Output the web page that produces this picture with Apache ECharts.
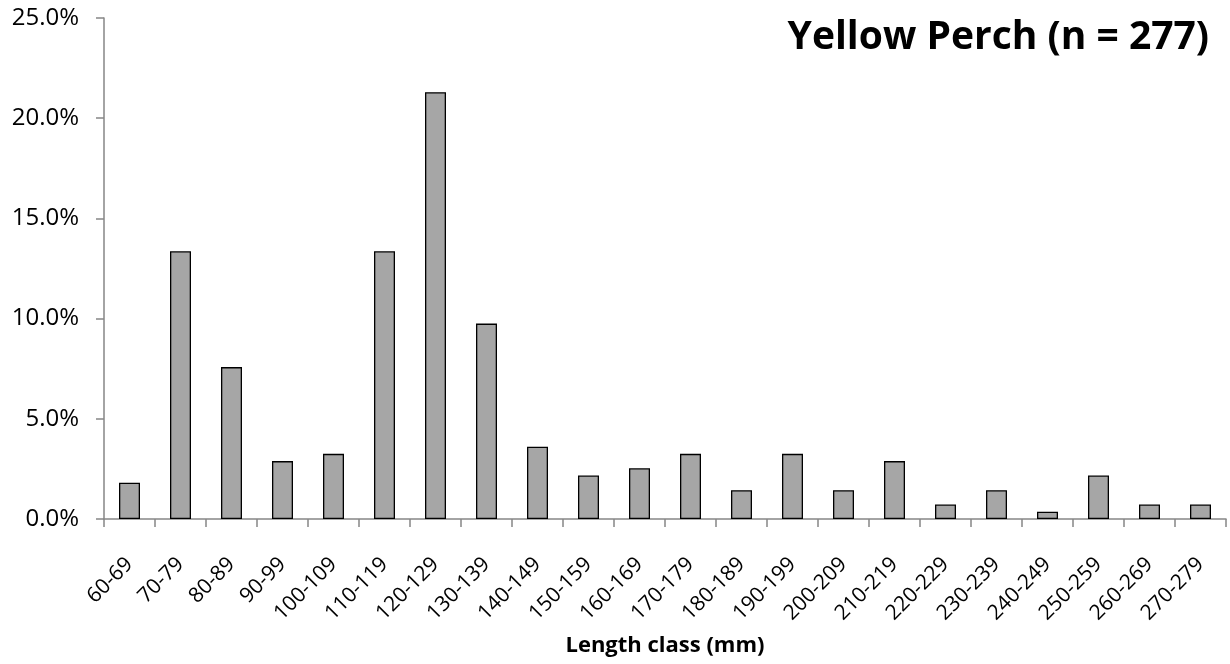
<!DOCTYPE html>
<html>
<head>
<meta charset="utf-8">
<script src="https://cdn.jsdelivr.net/npm/echarts@6/dist/echarts.min.js"></script>
<style>html,body{margin:0;padding:0;background:#fff;}#c{width:1230px;height:664px;}</style>
</head>
<body>
<div id="c"></div>
<script>
var categories = ['60-69','70-79','80-89','90-99','100-109','110-119','120-129','130-139','140-149','150-159','160-169','170-179','180-189','190-199','200-209','210-219','220-229','230-239','240-249','250-259','260-269','270-279'];
var percentValues = [1.81,13.36,7.58,2.89,3.25,13.36,21.30,9.75,3.61,2.17,2.53,3.25,1.44,3.25,1.44,2.89,0.72,1.44,0.36,2.17,0.72,0.72];
var yTicks = [0,5,10,15,20,25];
var titleText = 'Yellow Perch (n = 277)';
var xAxisTitle = 'Length class (mm)';

var chart = echarts.init(document.getElementById('c'), null, {renderer:'canvas'});
var font = 'Open Sans';
chart.setOption({
  animation:false,
  backgroundColor:'#fff',
  title:{text:titleText,right:16,top:13,textStyle:{fontFamily:font,fontWeight:'bold',fontSize:39,color:'#000'}},
  grid:{left:104,right:4,top:18,bottom:145,containLabel:false},
  xAxis:{
    type:'category',data:categories,
    name:xAxisTitle,nameLocation:'middle',nameGap:116,
    nameTextStyle:{fontFamily:font,fontWeight:'bold',fontSize:22,color:'#000'},
    axisLine:{lineStyle:{color:'#868686',width:1.5}},
    axisTick:{show:true,length:8,alignWithLabel:false,lineStyle:{color:'#868686',width:1.5}},
    axisLabel:{rotate:45,interval:0,fontFamily:font,fontSize:21,color:'#000',margin:42}
  },
  yAxis:{
    type:'value',min:yTicks[0],max:yTicks[yTicks.length-1],interval:5,
    axisLine:{show:true,lineStyle:{color:'#868686',width:1.5}},
    axisTick:{show:true,length:8,lineStyle:{color:'#868686',width:1.5}},
    splitLine:{show:false},
    axisLabel:{fontFamily:font,fontSize:24,color:'#000',margin:25,formatter:function(v){return v.toFixed(1)+'%';}}
  },
  series:[{
    type:'bar',data:percentValues,barWidth:21,
    itemStyle:{color:'#A6A6A6',borderColor:'#000',borderWidth:1.3}
  }]
});
</script>
</body>
</html>
